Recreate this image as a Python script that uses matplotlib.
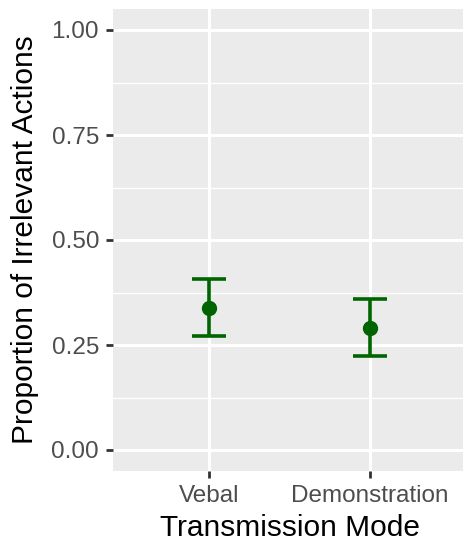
import numpy as np
import matplotlib.pyplot as plt

# Data
modes = ["Vebal", "Demonstration"]
means = [0.338, 0.291]
lower = [0.271, 0.224]
upper = [0.406, 0.360]

yticks = [0.00, 0.25, 0.50, 0.75, 1.00]
ytick_labels = ["0.00", "0.25", "0.50", "0.75", "1.00"]

plt.rcParams['font.family'] = ['Liberation Sans', 'DejaVu Sans']

fig = plt.figure(figsize=(4.64, 5.42), dpi=100)
ax = fig.add_axes([113 / 464, 71 / 542, 353 / 464, 462 / 542])

ax.set_facecolor("#EBEBEB")
for s in ax.spines.values():
    s.set_visible(False)

x = np.arange(1, len(modes) + 1)
yerr = [np.array(means) - np.array(lower), np.array(upper) - np.array(means)]
ax.errorbar(x, means, yerr=yerr, fmt="o", color="#006400", ecolor="#006400",
            markersize=10, elinewidth=2.6, capsize=12.3, capthick=2.6, zorder=5)

ax.set_xlim(0.4, 2.6)
ax.set_ylim(-0.05, 1.05)
ax.set_xticks(x)
ax.set_xticklabels(modes)
ax.set_yticks(yticks)
ax.set_yticklabels(ytick_labels)
ax.set_yticks([0.125, 0.375, 0.625, 0.875], minor=True)

ax.grid(True, which="major", color="white", linewidth=2.2, zorder=0)
ax.grid(True, which="minor", axis="y", color="white", linewidth=1.0, zorder=0)
ax.set_axisbelow(True)

ax.tick_params(axis="both", which="major", colors="#333333", length=5, width=2,
               labelsize=17.5, labelcolor="#4D4D4D")
ax.tick_params(axis="y", which="major", pad=5)
ax.tick_params(axis="x", which="major", pad=5)
ax.tick_params(axis="y", which="minor", length=0)

ax.set_xlabel("Transmission Mode", fontsize=21.5, color="black", labelpad=5)
ax.set_ylabel("Proportion of Irrelevant Actions", fontsize=21.5, color="black", labelpad=9)

fig.savefig("out.png", dpi=100)
